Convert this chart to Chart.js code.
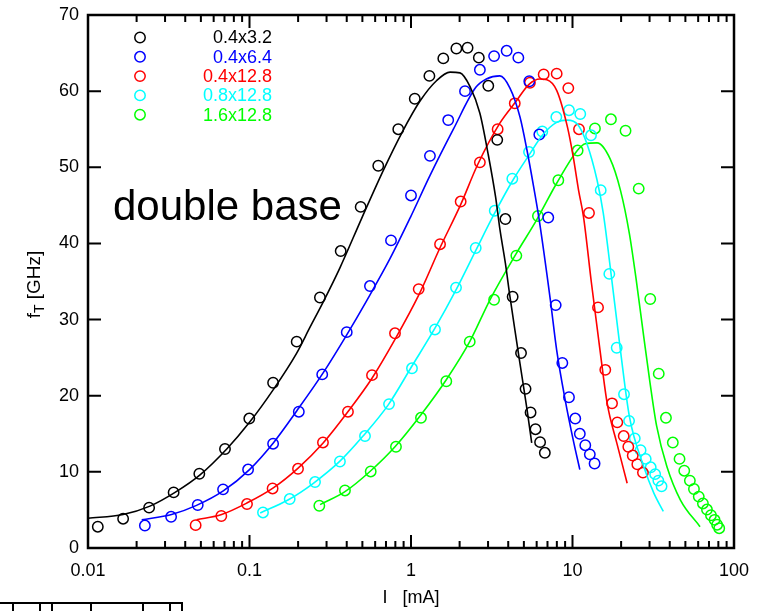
<!DOCTYPE html>
<html>
<head>
<meta charset="utf-8">
<script src="https://cdn.jsdelivr.net/npm/chart.js@4/dist/chart.umd.min.js"></script>
<style>
  html, body { margin: 0; padding: 0; background: #fff; }
  #wrap { width: 766px; height: 611px; }
</style>
</head>
<body>
<div id="wrap"><canvas id="c" width="766" height="611"></canvas></div>
<script>
// axis ticks
const xTickValues = [0.01, 0.1, 1, 10, 100];
const xTickLabels = ['0.01', '0.1', '1', '10', '100'];
const yTickValues = [0, 10, 20, 30, 40, 50, 60, 70];

// legend / series names and colours
const seriesNames = ['0.4x3.2', '0.4x6.4', '0.4x12.8', '0.8x12.8', '1.6x12.8'];
const seriesColors = ['#000000', '#0000ff', '#ff0000', '#00ffff', '#00ff00'];

// measured points: I [mA], fT [GHz]
const measI_1 = [0.0115, 0.0165, 0.0239, 0.0339, 0.0489, 0.0705, 0.0997, 0.140, 0.196, 0.273, 0.367, 0.488, 0.627, 0.834, 1.055, 1.30, 1.585, 1.91, 2.24, 2.63, 3.01, 3.42, 3.84, 4.26, 4.8, 5.12, 5.5, 5.9, 6.3, 6.74];
const measF_1 = [2.8, 3.85, 5.3, 7.3, 9.75, 13.0, 17.0, 21.7, 27.1, 32.9, 39.0, 44.8, 50.2, 55.0, 59.0, 62.0, 64.3, 65.6, 65.7, 64.4, 60.7, 53.6, 43.2, 33.0, 25.6, 20.9, 17.8, 15.6, 13.9, 12.5];

const measI_2 = [0.0225, 0.0327, 0.0478, 0.0686, 0.098, 0.140, 0.202, 0.282, 0.40, 0.557, 0.752, 1.0, 1.31, 1.70, 2.16, 2.67, 3.27, 3.91, 4.62, 5.40, 6.23, 7.08, 7.87, 8.65, 9.51, 10.4, 11.1, 12.0, 12.8, 13.7];
const measF_2 = [2.95, 4.1, 5.65, 7.7, 10.3, 13.7, 17.9, 22.8, 28.35, 34.4, 40.4, 46.3, 51.5, 56.2, 60.0, 62.8, 64.6, 65.3, 64.4, 61.3, 54.3, 43.4, 31.9, 24.3, 19.8, 17.0, 15.0, 13.5, 12.3, 11.1];

const measI_3 = [0.0464, 0.0669, 0.0965, 0.139, 0.1997, 0.285, 0.407, 0.5735, 0.796, 1.116, 1.513, 2.03, 2.67, 3.44, 4.39, 5.45, 6.63, 7.98, 9.42, 10.97, 12.65, 14.39, 15.96, 17.57, 18.94, 20.75, 22.16, 23.6, 25.2, 27.3];
const measF_3 = [3.0, 4.2, 5.77, 7.82, 10.4, 13.86, 17.9, 22.7, 28.2, 34.0, 39.9, 45.5, 50.65, 55.0, 58.4, 61.1, 62.2, 62.3, 60.4, 55.0, 44.0, 31.6, 23.4, 19.0, 16.5, 14.7, 13.3, 12.15, 11.0, 9.9];

const measI_4 = [0.1212, 0.1774, 0.2545, 0.363, 0.519, 0.731, 1.014, 1.408, 1.90, 2.516, 3.30, 4.24, 5.38, 6.50, 7.94, 9.51, 11.17, 13.02, 14.95, 16.9, 18.78, 20.84, 22.4, 24.3, 26.4, 28.4, 30.5, 32.5, 34.0, 35.6];
const measF_4 = [4.67, 6.43, 8.66, 11.36, 14.7, 18.9, 23.6, 28.7, 34.2, 39.4, 44.3, 48.5, 52.0, 54.7, 56.6, 57.5, 57.0, 54.2, 47.0, 36.0, 26.3, 20.2, 16.7, 14.4, 12.85, 11.7, 10.6, 9.7, 8.85, 8.1];

const measI_5 = [0.2706, 0.39, 0.563, 0.807, 1.153, 1.654, 2.31, 3.27, 4.49, 6.11, 8.17, 10.76, 13.77, 17.3, 21.3, 25.7, 30.3, 34.2, 37.9, 41.8, 46.0, 49.2, 53.3, 56.5, 60.5, 64.2, 68.0, 72.0, 75.8, 78.6, 81.0];
const measF_5 = [5.55, 7.56, 10.05, 13.3, 17.1, 21.9, 27.1, 32.6, 38.4, 43.6, 48.3, 52.2, 55.1, 56.3, 54.8, 47.2, 32.7, 22.9, 17.1, 13.85, 11.7, 10.15, 8.85, 7.75, 6.75, 5.85, 5.05, 4.3, 3.7, 3.06, 2.6];

// simulated curves
const simI_1 = [0.01, 0.0165, 0.0242, 0.0346, 0.0494, 0.0723, 0.1, 0.1404, 0.196, 0.237, 0.2857, 0.363, 0.495, 0.674, 0.876, 1.137, 1.443, 1.745, 2.01, 2.32, 2.67, 3.0, 3.34, 3.55, 3.84, 4.1, 4.4, 4.73, 5.22, 5.59];
const simF_1 = [3.9, 4.4, 5.5, 7.3, 9.6, 13.0, 16.5, 20.8, 25.6, 29.0, 32.3, 36.8, 43.3, 49.6, 54.5, 58.7, 61.4, 62.5, 62.4, 60.6, 57.1, 51.8, 46.1, 41.9, 37.4, 33.0, 28.6, 24.2, 18.3, 13.8];

const simI_2 = [0.0215, 0.0329, 0.047, 0.0688, 0.1, 0.1404, 0.196, 0.2857, 0.40, 0.532, 0.741, 0.99, 1.31, 1.83, 2.52, 2.93, 3.55, 4.1, 4.73, 5.22, 5.74, 6.2, 7.29, 7.98, 9.0, 10.1, 11.1];
const simF_2 = [3.7, 4.4, 5.6, 7.5, 10.3, 13.8, 18.0, 23.0, 28.0, 32.5, 38.0, 43.4, 48.9, 55.0, 60.5, 61.6, 62.0, 60.4, 56.6, 52.3, 47.5, 43.3, 32.6, 26.0, 19.5, 14.2, 10.3];

const simI_3 = [0.047, 0.0672, 0.0962, 0.1404, 0.2, 0.2857, 0.41, 0.5735, 0.796, 1.116, 1.51, 2.03, 2.58, 3.55, 4.45, 5.38, 6.27, 6.94, 7.98, 9.3, 10.1, 10.9, 11.7, 13.1, 14.8, 16.4, 18.8, 21.8];
const simF_3 = [3.7, 4.4, 5.9, 7.9, 10.5, 13.8, 18.0, 22.3, 27.4, 33.2, 39.4, 45.1, 50.3, 55.8, 58.6, 60.9, 61.6, 61.5, 60.1, 55.3, 51.4, 47.0, 43.5, 34.8, 26.0, 19.0, 13.8, 8.5];

const simI_4 = [0.1165, 0.173, 0.2485, 0.363, 0.5, 0.723, 1.014, 1.41, 1.90, 2.52, 3.3, 4.3, 5.38, 6.56, 7.98, 9.3, 10.8, 12.24, 14.2, 15.5, 17.1, 19.8, 22.5, 27.6, 31.9, 36.5];
const simF_4 = [4.6, 6.3, 8.5, 11.4, 14.6, 18.8, 23.9, 28.9, 33.9, 39.1, 44.0, 48.4, 51.6, 54.3, 55.9, 56.2, 55.6, 53.2, 48.3, 44.0, 37.0, 26.0, 17.3, 10.7, 7.2, 4.8];

const simI_5 = [0.2736, 0.39, 0.557, 0.796, 1.153, 1.654, 2.31, 3.1, 4.49, 6.0, 7.98, 10.8, 12.0, 14.2, 17.1, 19.8, 22.5, 24.7, 27.6, 30.2, 33.2, 38.4, 46.6, 61.6];
const simF_5 = [5.7, 7.4, 10.05, 13.3, 17.5, 22.1, 27.1, 32.7, 38.7, 43.1, 47.9, 52.3, 53.1, 53.2, 51.1, 47.0, 41.3, 35.5, 27.8, 21.7, 16.0, 10.7, 6.3, 2.8];

const measI = [measI_1, measI_2, measI_3, measI_4, measI_5];
const measF = [measF_1, measF_2, measF_3, measF_4, measF_5];
const simI = [simI_1, simI_2, simI_3, simI_4, simI_5];
const simF = [simF_1, simF_2, simF_3, simF_4, simF_5];

const pairs = (xs, ys) => xs.map((v, i) => ({ x: v, y: ys[i] }));

const datasets = [];
seriesNames.forEach((name, i) => {
  datasets.push({
    label: name + ' sim',
    data: pairs(simI[i], simF[i]),
    showLine: true,
    borderColor: seriesColors[i],
    borderWidth: 1.6,
    pointRadius: 0,
    cubicInterpolationMode: 'monotone',
    fill: false
  });
});
seriesNames.forEach((name, i) => {
  datasets.push({
    label: name,
    data: pairs(measI[i], measF[i]),
    showLine: false,
    borderColor: seriesColors[i],
    backgroundColor: 'rgba(0,0,0,0)',
    borderWidth: 1.5,
    pointRadius: 5.2,
    pointStyle: 'circle'
  });
});

const FONT = '"Liberation Sans", Arial, sans-serif';

// frame with inward ticks, legend, labels
const decor = {
  id: 'decor',
  afterDraw(chart) {
    const { ctx, chartArea: a, scales: { x, y } } = chart;
    ctx.save();
    ctx.strokeStyle = '#000';
    ctx.lineWidth = 2;
    ctx.beginPath();
    for (let d = -2; d <= 2; d++) {
      for (let m = 1; m <= 9; m++) {
        const v = m * Math.pow(10, d);
        if (v > 100.001) break;
        const px = x.getPixelForValue(v);
        const len = m === 1 ? 13 : 7;
        ctx.moveTo(px, a.bottom); ctx.lineTo(px, a.bottom - len);
        ctx.moveTo(px, a.top); ctx.lineTo(px, a.top + len);
      }
    }
    yTickValues.forEach(v => {
      const py = y.getPixelForValue(v);
      ctx.moveTo(a.left, py); ctx.lineTo(a.left + 13, py);
      ctx.moveTo(a.right, py); ctx.lineTo(a.right - 13, py);
    });
    ctx.stroke();
    ctx.lineWidth = 2.5;
    ctx.strokeRect(a.left, a.top, a.right - a.left, a.bottom - a.top);

    // legend
    ctx.font = '18px ' + FONT;
    ctx.textAlign = 'right';
    ctx.textBaseline = 'middle';
    seriesNames.forEach((name, i) => {
      const ly = 37.5 + i * 19.3;
      ctx.strokeStyle = seriesColors[i];
      ctx.lineWidth = 1.5;
      ctx.beginPath();
      ctx.arc(140, ly, 5.2, 0, Math.PI * 2);
      ctx.stroke();
      ctx.fillStyle = seriesColors[i];
      ctx.fillText(name, 272, ly + 1);
    });

    // annotation
    ctx.fillStyle = '#000';
    ctx.textAlign = 'left';
    ctx.textBaseline = 'alphabetic';
    ctx.font = '42px ' + FONT;
    ctx.fillText('double base', 113, 220);

    // y title with subscript
    const cy = (a.top + a.bottom) / 2 + 3;
    ctx.save();
    ctx.translate(40, cy);
    ctx.rotate(-Math.PI / 2);
    ctx.font = '19px ' + FONT;
    const w1 = ctx.measureText('f').width;
    const w3 = ctx.measureText(' [GHz]').width;
    ctx.font = '14px ' + FONT;
    const w2 = ctx.measureText('T').width;
    const sx = -(w1 + w2 + w3) / 2;
    ctx.font = '19px ' + FONT;
    ctx.fillText('f', sx, 0);
    ctx.font = '14px ' + FONT;
    ctx.fillText('T', sx + w1, 4);
    ctx.font = '19px ' + FONT;
    ctx.fillText(' [GHz]', sx + w1 + w2, 0);
    ctx.restore();

    // fragment of the panel below
    ctx.strokeStyle = '#000';
    ctx.lineWidth = 2;
    ctx.beginPath();
    ctx.moveTo(0, 603); ctx.lineTo(182, 603); ctx.lineTo(182, 611);
    [13, 40, 52, 91, 143, 170].forEach(tx => { ctx.moveTo(tx, 603); ctx.lineTo(tx, 611); });
    ctx.stroke();
    ctx.restore();
  }
};

new Chart(document.getElementById('c'), {
  type: 'scatter',
  data: { datasets },
  plugins: [decor],
  options: {
    responsive: false,
    animation: false,
    devicePixelRatio: 1,
    layout: { padding: { left: 0, right: 32, top: 15, bottom: 0 } },
    plugins: { legend: { display: false }, tooltip: { enabled: false } },
    scales: {
      x: {
        type: 'logarithmic',
        min: 0.01,
        max: 100,
        grid: { display: false, drawTicks: false },
        border: { display: false },
        afterBuildTicks: s => { s.ticks = xTickValues.map(v => ({ value: v })); },
        afterFit: s => { s.height = 63; s.paddingLeft = 0; s.paddingRight = 0; },
        ticks: {
          color: '#000',
          font: { family: FONT, size: 18 },
          padding: 12,
          maxRotation: 0,
          autoSkip: false,
          callback: v => { const k = xTickValues.indexOf(v); return k >= 0 ? xTickLabels[k] : ''; }
        },
        title: {
          display: true,
          text: 'I   [mA]',
          color: '#000',
          font: { family: FONT, size: 18 },
          padding: { top: 0, bottom: 2 }
        }
      },
      y: {
        min: 0,
        max: 70,
        grid: { display: false, drawTicks: false },
        border: { display: false },
        afterBuildTicks: s => { s.ticks = yTickValues.map(v => ({ value: v })); },
        afterFit: s => { s.width = 88; s.paddingTop = 0; s.paddingBottom = 0; },
        ticks: {
          color: '#000',
          font: { family: FONT, size: 18 },
          padding: 9
        }
      }
    }
  }
});
</script>
</body>
</html>
